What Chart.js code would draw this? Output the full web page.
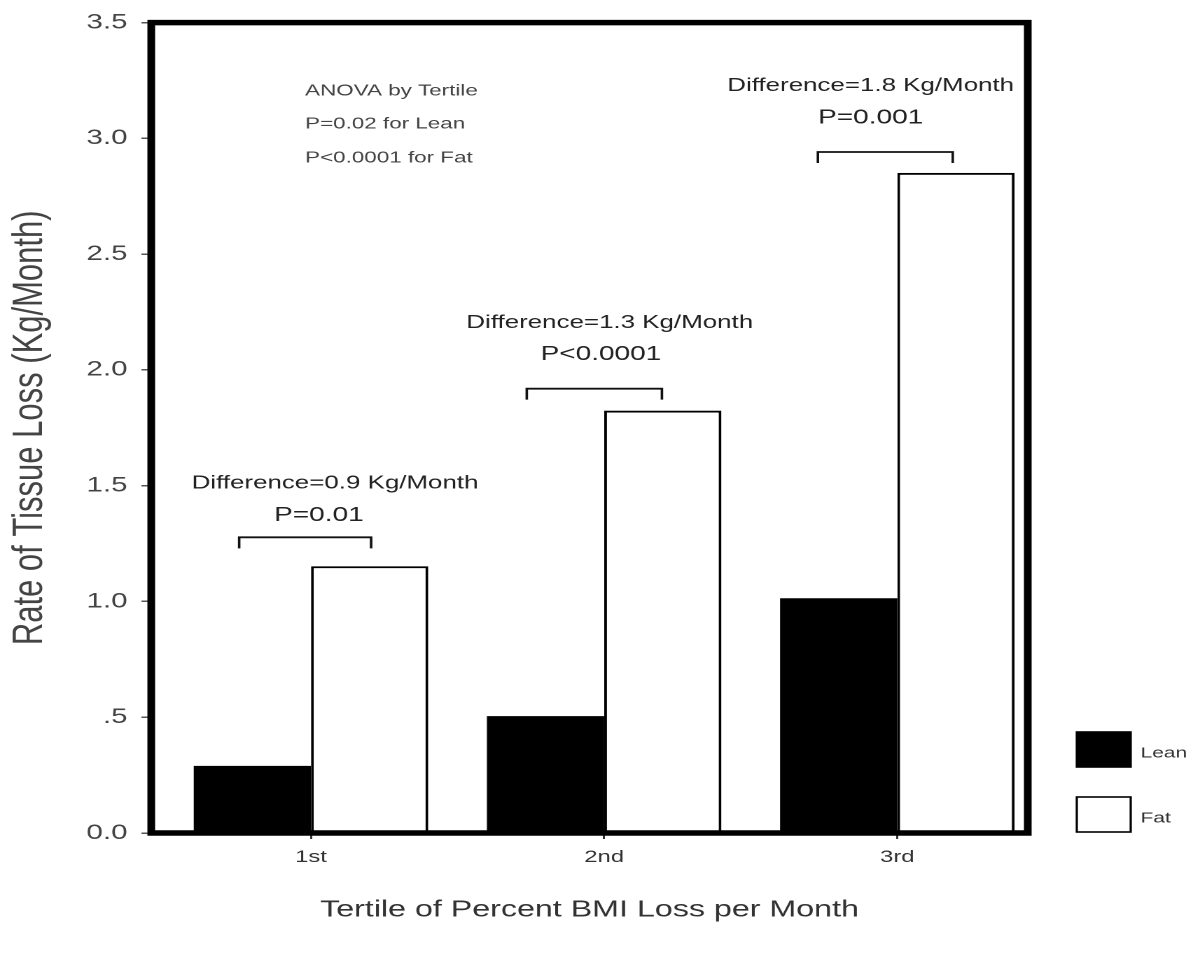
<!DOCTYPE html>
<html>
<head>
<meta charset="utf-8">
<script src="https://cdn.jsdelivr.net/npm/chart.js"></script>
<style>
  html, body { margin: 0; padding: 0; background: #fff; }
</style>
</head>
<body>
<!-- the reference is a horizontally stretched picture, so the canvas is drawn narrow and stretched -->
<canvas id="tissueChart" width="852" height="953" style="width:1193px;height:953px;display:block"></canvas>

<script>
    const tertileLabels = ["1st", "2nd", "3rd"];
    const tertilePositions = [1, 2, 3];
    const leanValues = [0.29, 0.505, 1.014];
    const fatValues = [1.152, 1.824, 2.851];
    const yTickValues = [0, 0.5, 1, 1.5, 2, 2.5, 3, 3.5];
    const yTickLabels = ["0.0", ".5", "1.0", "1.5", "2.0", "2.5", "3.0", "3.5"];
    const anovaLines = ["ANOVA by Tertile", "P=0.02 for Lean", "P<0.0001 for Fat"];
    const diffLabels = ["Difference=0.9 Kg/Month", "Difference=1.3 Kg/Month", "Difference=1.8 Kg/Month"];
    const pLabels = ["P=0.01", "P<0.0001", "P=0.001"];

    // where the notes sit, in axis units
    const anovaAnchor = { x: 0.98, y: [3.205, 3.062, 2.915] };
    const diffAnchors = [
        { x: 1.082, y: 1.51, px: 1.027, py: 1.371 },
        { x: 2.019, y: 2.204, px: 1.989, py: 2.066 },
        { x: 2.909, y: 3.226, px: 2.909, py: 3.088 }
    ];
    const brackets = [
        { from: 0.755, to: 1.205, at: 1.277 },
        { from: 1.736, to: 2.197, at: 1.919 },
        { from: 2.729, to: 3.189, at: 2.941 }
    ];

    const FONT = "'Liberation Sans', Arial, sans-serif";

    const decorPlugin = {
        id: "decor",
        afterDatasetsDraw(chart) {
            const ctx = chart.ctx;
            const a = chart.chartArea;
            const x = chart.scales.x;
            const y = chart.scales.y;
            ctx.save();

            // brackets over each pair
            ctx.strokeStyle = "#111";
            ctx.lineWidth = 1.8;
            brackets.forEach(b => {
                let x1 = x.getPixelForValue(b.from);
                let x2 = x.getPixelForValue(b.to);
                let yy = y.getPixelForValue(b.at);
                ctx.beginPath();
                ctx.moveTo(x1, yy + 11);
                ctx.lineTo(x1, yy);
                ctx.lineTo(x2, yy);
                ctx.lineTo(x2, yy + 11);
                ctx.stroke();
            });

            // heavy frame
            ctx.strokeStyle = "#000";
            ctx.lineWidth = 5.5;
            ctx.strokeRect(a.left, a.top, a.width, a.height);

            // notes
            ctx.fillStyle = "#444";
            ctx.font = "16px " + FONT;
            ctx.textAlign = "left";
            ctx.textBaseline = "middle";
            anovaLines.forEach((t, i) => {
                ctx.fillText(t, x.getPixelForValue(anovaAnchor.x), y.getPixelForValue(anovaAnchor.y[i]));
            });

            ctx.fillStyle = "#222";
            ctx.textAlign = "center";
            diffAnchors.forEach((d, i) => {
                ctx.font = "18.5px " + FONT;
                ctx.fillText(diffLabels[i], x.getPixelForValue(d.x), y.getPixelForValue(d.y));
                ctx.font = "20px " + FONT;
                ctx.fillText(pLabels[i], x.getPixelForValue(d.px), y.getPixelForValue(d.py));
            });

            // legend at the lower right
            let boxX = a.right + 35;
            let boxW = 38.5;
            let boxH = 35;
            ctx.font = "15px " + FONT;
            ctx.textAlign = "left";
            chart.data.datasets.forEach((ds, i) => {
                let top = a.bottom - 101 + i * 65;
                ctx.fillStyle = ds.backgroundColor;
                ctx.fillRect(boxX, top, boxW, boxH);
                ctx.strokeStyle = "#000";
                ctx.lineWidth = 1.6;
                ctx.strokeRect(boxX, top, boxW, boxH);
                ctx.fillStyle = "#333";
                ctx.fillText(ds.label, boxX + boxW + 7, top + boxH / 2 + 4);
            });

            ctx.restore();
        }
    };

    const ctx = document.getElementById("tissueChart").getContext("2d");
    new Chart(ctx, {
        type: "bar",
        data: {
            datasets: [
                {
                    label: "Lean",
                    data: leanValues.map((v, i) => ({ x: tertilePositions[i], y: v })),
                    backgroundColor: "#000",
                    borderColor: "#000",
                    borderWidth: 0
                },
                {
                    label: "Fat",
                    data: fatValues.map((v, i) => ({ x: tertilePositions[i], y: v })),
                    backgroundColor: "#fff",
                    borderColor: "#000",
                    borderWidth: 2
                }
            ]
        },
        options: {
            responsive: false,
            devicePixelRatio: 2,
            animation: false,
            categoryPercentage: 0.8,
            barPercentage: 1.0,
            layout: { padding: { top: 22, right: 118, bottom: 0, left: 0 } },
            plugins: {
                legend: { display: false },
                tooltip: { enabled: false }
            },
            scales: {
                x: {
                    type: "linear",
                    min: 0.455,
                    max: 3.445,
                    offset: false,
                    afterBuildTicks: axis => { axis.ticks = tertilePositions.map(v => ({ value: v })); },
                    afterFit: axis => { axis.height = 120; },
                    border: { display: false },
                    grid: { drawOnChartArea: false, offset: false, tickLength: 6, color: "#333", lineWidth: 1.5 },
                    ticks: {
                        padding: 8,
                        color: "#333",
                        font: { family: FONT, size: 17 },
                        callback: v => tertileLabels[tertilePositions.indexOf(v)]
                    },
                    title: {
                        display: true,
                        text: "Tertile of Percent BMI Loss per Month",
                        color: "#333",
                        font: { family: FONT, size: 23, lineHeight: 1.2 },
                        padding: { top: 0, bottom: 29 }
                    }
                },
                y: {
                    min: 0,
                    max: 3.5,
                    afterBuildTicks: axis => { axis.ticks = yTickValues.map(v => ({ value: v })); },
                    afterFit: axis => { axis.width = 108; },
                    border: { display: false },
                    grid: { drawOnChartArea: false, tickLength: 7, color: "#555", lineWidth: 1.5 },
                    ticks: {
                        padding: 10,
                        color: "#444",
                        font: { family: FONT, size: 21 },
                        callback: v => yTickLabels[yTickValues.indexOf(v)]
                    },
                    title: {
                        display: true,
                        text: "Rate of Tissue Loss (Kg/Month)",
                        color: "#444",
                        font: { family: FONT, size: 31, lineHeight: 1.2 },
                        padding: { top: 3, bottom: 0 }
                    }
                }
            }
        },
        plugins: [decorPlugin]
    });
</script>
</body>
</html>
